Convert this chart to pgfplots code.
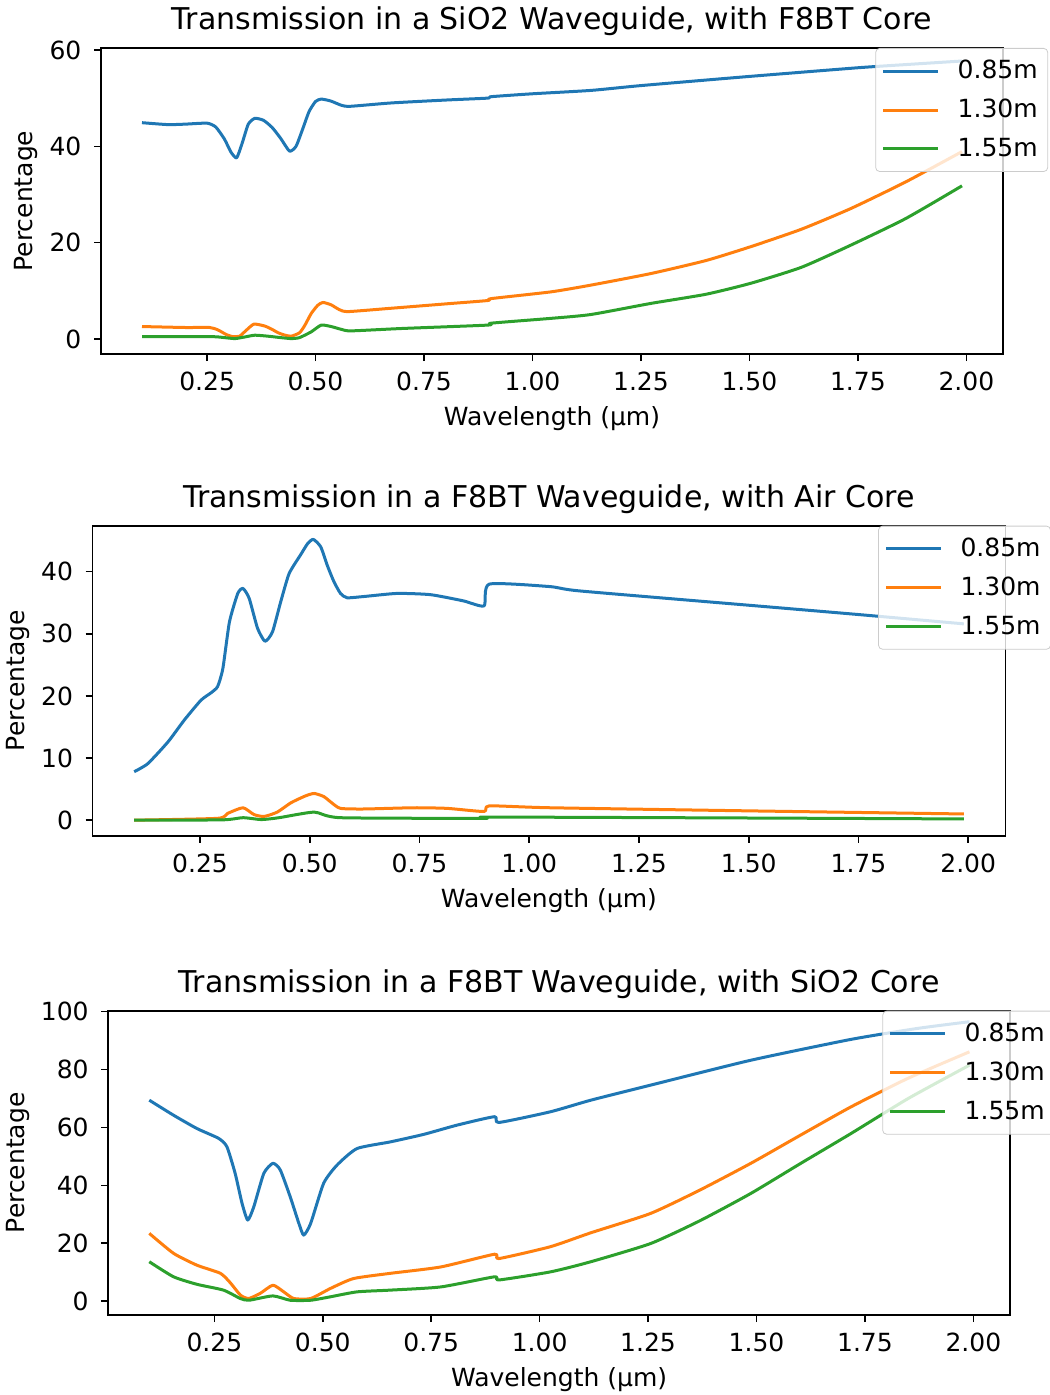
\documentclass[border=0pt]{standalone}
\usepackage{pgfplots}
\pgfplotsset{compat=1.18}
\usepackage{fontspec}
\setmainfont{DejaVu Sans}
\definecolor{c0}{HTML}{1F77B4}
\definecolor{c1}{HTML}{FF7F0E}
\definecolor{c2}{HTML}{2CA02C}
\pgfplotsset{
  trans/.style={
    scale only axis, anchor=north west,
    xmin=0.0055, xmax=2.0845,
    xtick={0.25,0.5,0.75,1,1.25,1.5,1.75,2},
    /pgf/number format/assume math mode=true,
    x tick label style={/pgf/number format/.cd, fixed, fixed zerofill, precision=2, /tikz/.cd},
    tick pos=left, tick align=outside, major tick length=3.5pt,
    axis line style={line width=0.8pt},
    every tick/.style={black, line width=0.8pt},
    tick label style={font=\fontsize{12.5}{15}\selectfont},
    xticklabel style={anchor=base, yshift=-14.8pt},
    yticklabel style={anchor=east, xshift=-2.8pt},
    label style={font=\fontsize{12.5}{15}\selectfont},
    xlabel={Wavelength (µm)},
    ylabel={Percentage},
    xlabel style={at={(axis description cs:0.5,0)}, anchor=base, yshift=-35.85pt},
    title style={at={(axis description cs:0.5,1)}, anchor=base, yshift=3pt, font=\fontsize{15}{18}\selectfont},
    legend cell align=left,
    legend image code/.code={\draw[#1, line width=1.5pt] (0pt,0pt) -- (27.5pt,0pt);},
    legend style={at={(1.05,1)}, anchor=north east, draw=black!20, fill=white,
      fill opacity=0.8, text opacity=1, rounded corners=2pt, inner ysep=4pt,
      font=\fontsize{12.5}{15}\selectfont, row sep=4.7pt,
      /tikz/every odd column/.append style={column sep=7pt}},
    every axis plot/.append style={line width=1.5pt, line join=round, smooth, tension=0.35},
  }
}
\begin{document}
\begin{tikzpicture}
\useasboundingbox (0,0) rectangle (524.5pt,-697.5pt);
% ---------- Plot 1 ----------
\begin{axis}[trans, at={(50.5pt,-24pt)}, width=451pt, height=153pt,
  ymin=-3.1, ymax=60.4, ytick={0,20,40,60},
  ylabel style={at={(axis description cs:-0.0831,0.5)}, anchor=center},
  title={Transmission in a SiO2 Waveguide, with F8BT Core}]
\addplot[c0] coordinates {
(0.10,44.9) (0.16,44.5) (0.20,44.6) (0.25,44.8) (0.27,44.0) (0.29,41.5) (0.305,38.8)
(0.318,37.6) (0.33,40.4) (0.345,44.6) (0.36,45.8) (0.38,45.4) (0.40,43.9) (0.42,41.6)
(0.44,39.0) (0.455,40.0) (0.47,43.5) (0.485,47.2) (0.50,49.3) (0.513,49.8) (0.535,49.4)
(0.56,48.5) (0.58,48.3) (0.675,49.0) (0.80,49.6) (0.897,50.0) (0.905,50.3) (1.00,50.9)
(1.135,51.6) (1.25,52.6) (1.50,54.5) (1.75,56.3) (1.85,56.9) (1.99,57.7)};
\addlegendentry{0.85m}
\addplot[c1] coordinates {
(0.10,2.6) (0.20,2.4) (0.256,2.4) (0.275,1.9) (0.295,0.9) (0.31,0.5) (0.325,0.6)
(0.34,1.8) (0.358,3.1) (0.383,2.7) (0.40,2.0) (0.414,1.3) (0.43,0.8) (0.444,0.6)
(0.463,1.3) (0.475,2.8) (0.49,5.3) (0.505,7.0) (0.517,7.6) (0.536,7.1) (0.555,6.1)
(0.575,5.7) (0.675,6.4) (0.80,7.3) (0.897,8.0) (0.905,8.4) (1.043,9.8) (1.135,11.2)
(1.273,13.6) (1.40,16.3) (1.504,19.2) (1.62,22.8) (1.734,27.1) (1.86,32.6) (1.99,38.9)};
\addlegendentry{1.30m}
\addplot[c2] coordinates {
(0.10,0.5) (0.26,0.5) (0.29,0.3) (0.314,0.1) (0.335,0.4) (0.36,0.8) (0.39,0.6)
(0.42,0.3) (0.444,0.1) (0.463,0.3) (0.49,1.5) (0.513,2.9) (0.536,2.6) (0.56,2.0)
(0.582,1.7) (0.70,2.2) (0.897,2.9) (0.905,3.3) (1.043,4.3) (1.135,5.1) (1.273,7.4)
(1.40,9.3) (1.504,11.6) (1.62,14.9) (1.734,19.5) (1.86,25.0) (1.99,31.8)};
\addlegendentry{1.55m}
\end{axis}
% ---------- Plot 2 ----------
\begin{axis}[trans, at={(46.35pt,-262.85pt)}, width=456.3pt, height=155pt,
  ymin=-2.5, ymax=47.4, ytick={0,10,20,30,40},
  ylabel style={at={(axis description cs:-0.0819,0.5)}, anchor=center},
  title={Transmission in a F8BT Waveguide, with Air Core}]
\addplot[c0] coordinates {
(0.10,7.8) (0.131,9.1) (0.177,12.6) (0.214,16.1) (0.252,19.3) (0.275,20.5) (0.29,21.5)
(0.302,24.4) (0.317,31.9) (0.336,36.5) (0.348,37.3) (0.362,35.7) (0.381,30.9) (0.398,28.8)
(0.415,30.3) (0.434,35.2) (0.453,39.7) (0.479,42.7) (0.495,44.5) (0.508,45.2) (0.525,44.0)
(0.54,41.0) (0.555,38.4) (0.57,36.5) (0.585,35.8) (0.623,36.0) (0.699,36.5) (0.775,36.3)
(0.85,35.3) (0.897,34.5) (0.909,38.0) (1.047,37.6) (1.115,36.9) (1.50,34.6) (1.75,33.1) (1.99,31.6)};
\addlegendentry{0.85m}
\addplot[c1] coordinates {
(0.10,0.0) (0.29,0.3) (0.313,1.1) (0.348,2.0) (0.373,0.9) (0.396,0.6) (0.426,1.3)
(0.457,2.8) (0.49,3.9) (0.51,4.3) (0.532,3.8) (0.55,2.8) (0.57,1.9) (0.623,1.8)
(0.737,2.0) (0.813,1.9) (0.897,1.4) (0.909,2.3) (1.047,2.0) (1.50,1.5) (1.99,1.0)};
\addlegendentry{1.30m}
\addplot[c2] coordinates {
(0.10,0.0) (0.30,0.05) (0.348,0.4) (0.39,0.1) (0.43,0.4) (0.51,1.3) (0.57,0.4)
(0.897,0.3) (0.909,0.5) (1.50,0.35) (1.99,0.2)};
\addlegendentry{1.55m}
\end{axis}
% ---------- Plot 3 ----------
\begin{axis}[trans, at={(54.15pt,-505.35pt)}, width=450.85pt, height=152.15pt,
  ymin=-4.8, ymax=100.3, ytick={0,20,40,60,80,100},
  ylabel style={at={(axis description cs:-0.0998,0.5)}, anchor=center},
  title={Transmission in a F8BT Waveguide, with SiO2 Core}]
\addplot[c0] coordinates {
(0.10,69.4) (0.156,64.2) (0.21,59.6) (0.26,56.2) (0.279,53.3) (0.298,44.1) (0.314,33.7)
(0.327,28.0) (0.341,32.6) (0.364,44.1) (0.385,47.6) (0.402,45.3) (0.425,36.0) (0.445,26.8)
(0.456,22.8) (0.472,26.8) (0.502,40.7) (0.533,47.0) (0.579,52.7) (0.656,55.0) (0.733,57.6)
(0.81,60.8) (0.896,63.7) (0.906,61.7) (1.025,65.4) (1.118,69.4) (1.256,74.6) (1.487,83.2)
(1.718,90.4) (1.872,94.2) (1.991,96.5)};
\addlegendentry{0.85m}
\addplot[c1] coordinates {
(0.10,23.4) (0.156,16.5) (0.21,12.4) (0.264,9.6) (0.287,6.3) (0.31,2.1) (0.329,0.9)
(0.356,2.7) (0.385,5.5) (0.41,3.2) (0.433,0.9) (0.472,0.9) (0.518,4.4) (0.571,7.8)
(0.656,9.6) (0.772,11.8) (0.896,16.2) (0.906,14.7) (1.025,18.8) (1.118,23.6) (1.256,30.3)
(1.37,38.4) (1.487,47.6) (1.60,57.2) (1.718,67.1) (1.85,77.0) (1.991,86.1)};
\addlegendentry{1.30m}
\addplot[c2] coordinates {
(0.10,13.6) (0.156,8.4) (0.21,5.8) (0.271,3.8) (0.31,0.9) (0.33,0.3) (0.385,1.8)
(0.425,0.3) (0.472,0.3) (0.518,1.5) (0.579,3.2) (0.656,3.8) (0.772,4.9) (0.896,8.4)
(0.906,7.3) (1.025,10.1) (1.118,13.6) (1.256,19.9) (1.37,27.8) (1.487,37.2) (1.60,47.4)
(1.718,57.9) (1.85,70.0) (1.991,81.5)};
\addlegendentry{1.55m}
\end{axis}
\end{tikzpicture}
\end{document}
